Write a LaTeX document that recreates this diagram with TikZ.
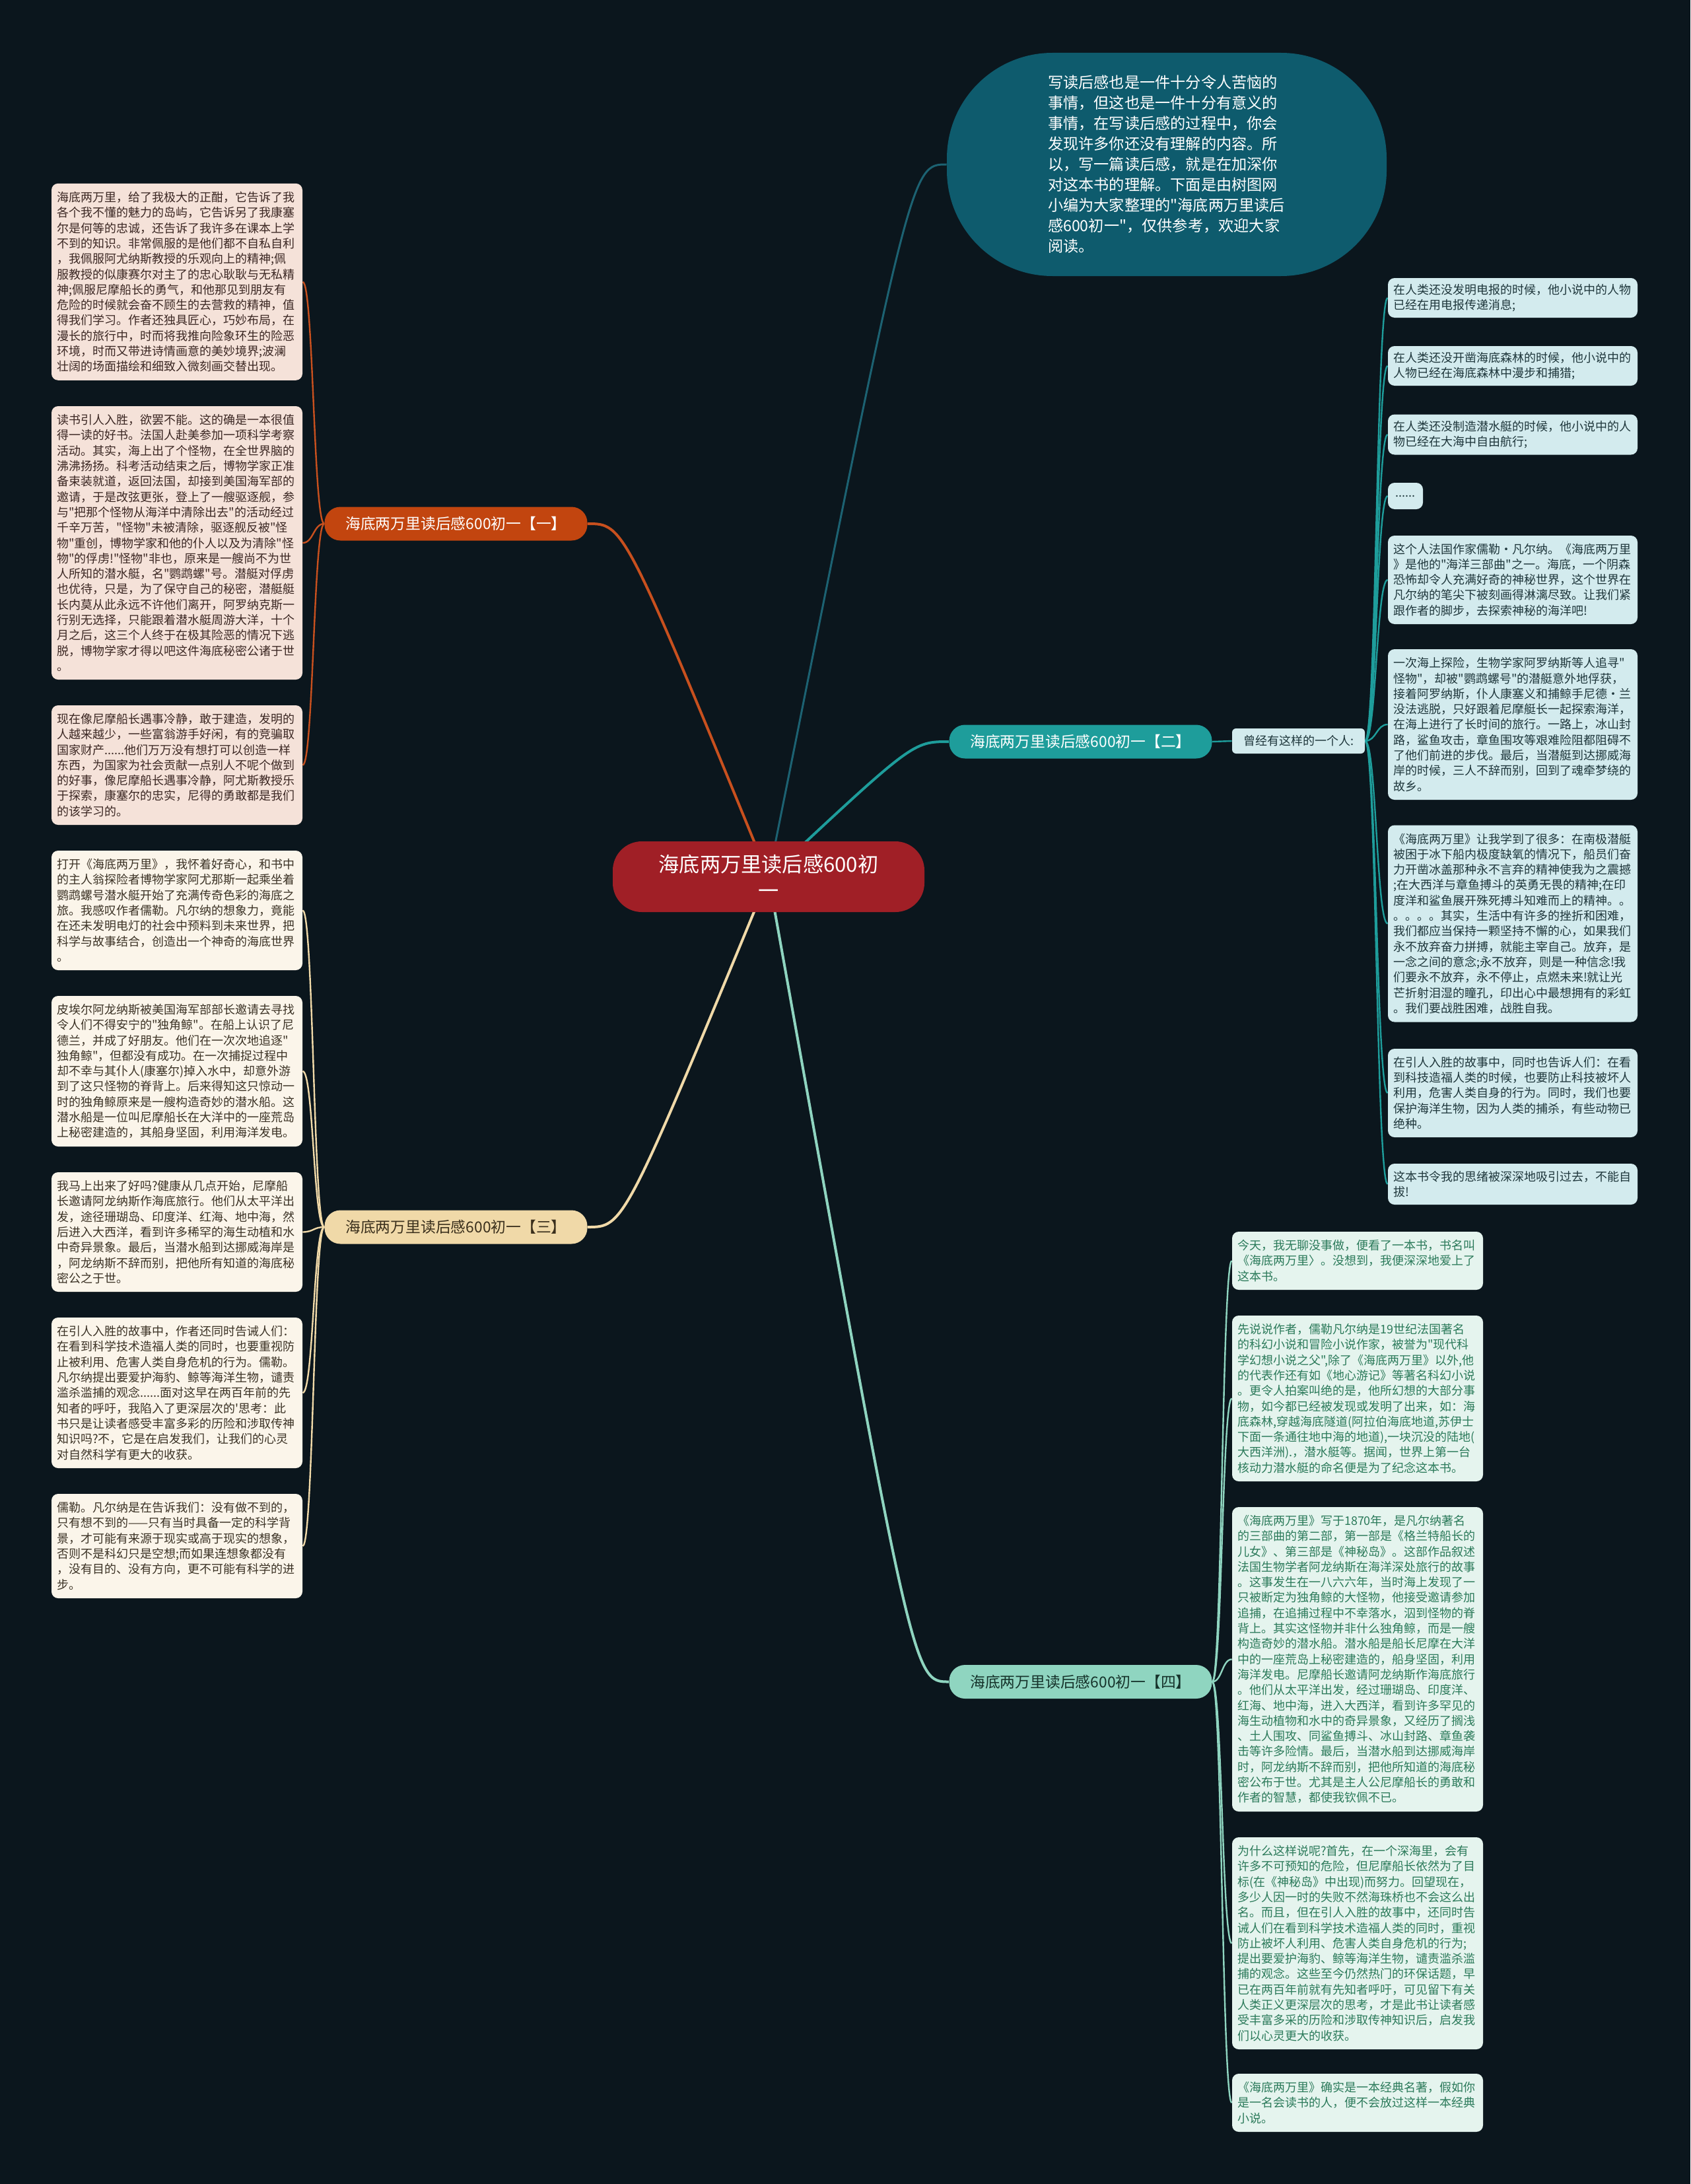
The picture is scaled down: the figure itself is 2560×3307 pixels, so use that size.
\documentclass[tikz,border=0pt]{standalone}
\usepackage{fontspec}
\setmainfont{Noto Sans CJK SC}[Ligatures=TeXOff]
\usetikzlibrary{calc}
\pgfdeclarelayer{back}
\pgfdeclarelayer{links}
\pgfsetlayers{back,links,main}
\definecolor{bgc}{HTML}{0B161D}
\definecolor{rootc}{HTML}{A01F26}
\definecolor{orgc}{HTML}{C2450F}
\definecolor{orgl}{HTML}{C8501E}
\definecolor{yelc}{HTML}{F0D9A8}
\definecolor{yeltxt}{HTML}{3A2F1C}
\definecolor{tealc}{HTML}{1E9D9B}
\definecolor{mintc}{HTML}{8FD5C0}
\definecolor{minttxt}{HTML}{16332B}
\definecolor{bubc}{HTML}{0E5B6D}
\definecolor{bubl}{HTML}{1C6272}
\definecolor{pkfill}{HTML}{F5E2D9}
\definecolor{pktxt}{HTML}{3B2723}
\definecolor{crfill}{HTML}{FBF5EA}
\definecolor{crtxt}{HTML}{3B3225}
\definecolor{cyfill}{HTML}{D3EBEE}
\definecolor{cytxt}{HTML}{1E363B}
\definecolor{mtfill}{HTML}{E5F4EE}
\definecolor{mttxt}{HTML}{2B7A5A}
\begin{document}
\begin{tikzpicture}[x=0.5pt,y=-0.5pt,
  rootnode/.style={fill=rootc,text=white,rounded corners=22pt,minimum width=236pt,minimum height=53.5pt,inner sep=0pt,align=center,font=\fontsize{15.6}{20}\selectfont},
  pill/.style={rounded corners=12pt,minimum width=199pt,minimum height=25.5pt,inner sep=0pt,font=\fontsize{11.4}{13}\selectfont},
  bubble/.style={fill=bubc,text=white,rounded corners=80pt,minimum width=333pt,minimum height=169pt,inner sep=0pt,text width=180pt,align=left,font=\fontsize{11.6}{15.5}\selectfont},
  tbox/.style={rounded corners=5pt,inner xsep=4pt,inner ysep=0pt,align=left,font=\fontsize{9}{11.65}\selectfont},
  pkbox/.style={tbox,fill=pkfill,text=pktxt,text width=182pt},
  crbox/.style={tbox,fill=crfill,text=crtxt,text width=182pt},
  cybox/.style={tbox,fill=cyfill,text=cytxt,text width=181pt},
  mtbox/.style={tbox,fill=mtfill,text=mttxt,text width=182pt},
  mainlink/.style={line width=2pt},
  sublink/.style={line width=1.2pt}
]
\begin{pgfonlayer}{back}
\fill[bgc] (0,0) rectangle (2560,3307);
\end{pgfonlayer}
\useasboundingbox (0,0) rectangle (2560,3307);

% root and branches
\node[rootnode] (root) at (1164,1327.5) {海底两万里读后感600初\\一};
\node[bubble] (bub) at (1767,249) {写读后感也是一件十分令人苦恼的\\事情，但这也是一件十分有意义的\\事情，在写读后感的过程中，你会\\发现许多你还没有理解的内容。所\\以，写一篇读后感，就是在加深你\\对这本书的理解。下面是由树图网\\小编为大家整理的"海底两万里读后\\感600初一"，仅供参考，欢迎大家\\阅读。};
\node[pill,fill=orgc,text=white] (b1) at (690.5,793) {海底两万里读后感600初一【一】};
\node[pill,fill=yelc,text=yeltxt] (b3) at (690.5,1858) {海底两万里读后感600初一【三】};
\node[pill,fill=tealc,text=white] (b2) at (1636.5,1123) {海底两万里读后感600初一【二】};
\node[pill,fill=mintc,text=minttxt] (b4) at (1636.5,2546.5) {海底两万里读后感600初一【四】};
\node[rounded corners=3pt,fill=cyfill,text=cytxt,minimum width=100.5pt,minimum height=19pt,inner sep=0pt,font=\fontsize{9}{11}\selectfont] (lab) at (1966.5,1122) {曾经有这样的一个人:};

% left boxes, branch one
\node[pkbox,minimum height=149pt] (l1) at (268,426.8) {海底两万里，给了我极大的正酣，它告诉了我\\各个我不懂的魅力的岛屿，它告诉另了我康塞\\尔是何等的忠诚，还告诉了我许多在课本上学\\不到的知识。非常佩服的是他们都不自私自利\\，我佩服阿尤纳斯教授的乐观向上的精神;佩\\服教授的似康赛尔对主了的忠心耿耿与无私精\\神;佩服尼摩船长的勇气，和他那见到朋友有\\危险的时候就会奋不顾生的去营救的精神，值\\得我们学习。作者还独具匠心，巧妙布局，在\\漫长的旅行中，时而将我推向险象环生的险恶\\环境，时而又带进诗情画意的美妙境界;波澜\\壮阔的场面描绘和细致入微刻画交替出现。};
\node[pkbox,minimum height=207pt] (l2) at (268,822) {读书引人入胜，欲罢不能。这的确是一本很值\\得一读的好书。法国人赴美参加一项科学考察\\活动。其实，海上出了个怪物，在全世界脑的\\沸沸扬扬。科考活动结束之后，博物学家正准\\备束装就道，返回法国，却接到美国海军部的\\邀请，于是改弦更张，登上了一艘驱逐舰，参\\与"把那个怪物从海洋中清除出去"的活动经过\\千辛万苦，"怪物"未被清除，驱逐舰反被"怪\\物"重创，博物学家和他的仆人以及为清除"怪\\物"的俘虏!"怪物"非也，原来是一艘尚不为世\\人所知的潜水艇，名"鹦鹉螺"号。潜艇对俘虏\\也优待，只是，为了保守自己的秘密，潜艇艇\\长内莫从此永远不许他们离开，阿罗纳克斯一\\行别无选择，只能跟着潜水艇周游大洋，十个\\月之后，这三个人终于在极其险恶的情况下逃\\脱，博物学家才得以吧这件海底秘密公诸于世\\。};
\node[pkbox,minimum height=90.5pt] (l3) at (268,1158.5) {现在像尼摩船长遇事冷静，敢于建造，发明的\\人越来越少，一些富翁游手好闲，有的竞骗取\\国家财产......他们万万没有想打可以创造一样\\东西，为国家为社会贡献一点别人不呢个做到\\的好事，像尼摩船长遇事冷静，阿尤斯教授乐\\于探索，康塞尔的忠实，尼得的勇敢都是我们\\的该学习的。};

% left boxes, branch three
\node[crbox,minimum height=90.5pt] (l4) at (268,1378.5) {打开《海底两万里》，我怀着好奇心，和书中\\的主人翁探险者博物学家阿尤那斯一起乘坐着\\鹦鹉螺号潜水艇开始了充满传奇色彩的海底之\\旅。我感叹作者儒勒。凡尔纳的想象力，竟能\\在还未发明电灯的社会中预料到未来世界，把\\科学与故事结合，创造出一个神奇的海底世界\\。};
\node[crbox,minimum height=114pt] (l5) at (268,1622) {皮埃尔阿龙纳斯被美国海军部部长邀请去寻找\\令人们不得安宁的"独角鲸"。在船上认识了尼\\德兰，并成了好朋友。他们在一次次地追逐"\\独角鲸"，但都没有成功。在一次捕捉过程中\\却不幸与其仆人(康塞尔)掉入水中，却意外游\\到了这只怪物的脊背上。后来得知这只惊动一\\时的独角鲸原来是一艘构造奇妙的潜水船。这\\潜水船是一位叫尼摩船长在大洋中的一座荒岛\\上秘密建造的，其船身坚固，利用海洋发电。};
\node[crbox,minimum height=90.5pt] (l6) at (268,1865.5) {我马上出来了好吗?健康从几点开始，尼摩船\\长邀请阿龙纳斯作海底旅行。他们从太平洋出\\发，途径珊瑚岛、印度洋、红海、地中海，然\\后进入大西洋，看到许多稀罕的海生动植和水\\中奇异景象。最后，当潜水船到达挪威海岸是\\，阿龙纳斯不辞而别，把他所有知道的海底秘\\密公之于世。};
\node[crbox,minimum height=114pt] (l7) at (268,2109) {在引人入胜的故事中，作者还同时告诫人们：\\在看到科学技术造福人类的同时，也要重视防\\止被利用、危害人类自身危机的行为。儒勒。\\凡尔纳提出要爱护海豹、鲸等海洋生物，谴责\\滥杀滥捕的观念......面对这早在两百年前的先\\知者的呼吁，我陷入了更深层次的'思考：此\\书只是让读者感受丰富多彩的历险和涉取传神\\知识吗?不，它是在启发我们，让我们的心灵\\对自然科学有更大的收获。};
\node[crbox,minimum height=79pt] (l8) at (268,2341) {儒勒。凡尔纳是在告诉我们：没有做不到的，\\只有想不到的——只有当时具备一定的科学背\\景，才可能有来源于现实或高于现实的想象，\\否则不是科幻只是空想;而如果连想象都没有\\，没有目的、没有方向，更不可能有科学的进\\步。};

% right boxes, branch two
\node[cybox,minimum height=30pt] (r1) at (2291,451) {在人类还没发明电报的时候，他小说中的人物\\已经在用电报传递消息;};
\node[cybox,minimum height=30pt] (r2) at (2291,554) {在人类还没开凿海底森林的时候，他小说中的\\人物已经在海底森林中漫步和捕猎;};
\node[cybox,minimum height=30.5pt] (r3) at (2291,658) {在人类还没制造潜水艇的时候，他小说中的人\\物已经在大海中自由航行;};
\node[tbox,fill=cyfill,text=cytxt,minimum width=26.5pt,minimum height=20pt,inner xsep=0pt,align=center] (r4) at (2128.5,751) {......};
\node[cybox,minimum height=67pt] (r5) at (2291,878) {这个人法国作家儒勒·凡尔纳。《海底两万里\\》是他的"海洋三部曲"之一。海底，一个阴森\\恐怖却令人充满好奇的神秘世界，这个世界在\\凡尔纳的笔尖下被刻画得淋漓尽致。让我们紧\\跟作者的脚步，去探索神秘的海洋吧!};
\node[cybox,minimum height=114pt] (r6) at (2291,1097) {一次海上探险，生物学家阿罗纳斯等人追寻"\\怪物"，却被"鹦鹉螺号"的潜艇意外地俘获，\\接着阿罗纳斯，仆人康塞义和捕鲸手尼德·兰\\没法逃脱，只好跟着尼摩艇长一起探索海洋，\\在海上进行了长时间的旅行。一路上，冰山封\\路，鲨鱼攻击，章鱼围攻等艰难险阻都阻碍不\\了他们前进的步伐。最后，当潜艇到达挪威海\\岸的时候，三人不辞而别，回到了魂牵梦绕的\\故乡。};
\node[cybox,minimum height=149pt] (r7) at (2291,1398.5) {《海底两万里》让我学到了很多：在南极潜艇\\被困于冰下船内极度缺氧的情况下，船员们奋\\力开凿冰盖那种永不言弃的精神使我为之震撼\\;在大西洋与章鱼搏斗的英勇无畏的精神;在印\\度洋和鲨鱼展开殊死搏斗知难而上的精神。。\\。。。。其实，生活中有许多的挫折和困难，\\我们都应当保持一颗坚持不懈的心，如果我们\\永不放弃奋力拼搏，就能主宰自己。放弃，是\\一念之间的意念;永不放弃，则是一种信念!我\\们要永不放弃，永不停止，点燃未来!就让光\\芒折射泪湿的瞳孔，印出心中最想拥有的彩虹\\。我们要战胜困难，战胜自我。};
\node[cybox,minimum height=67pt] (r8) at (2291,1655) {在引人入胜的故事中，同时也告诉人们：在看\\到科技造福人类的时候，也要防止科技被坏人\\利用，危害人类自身的行为。同时，我们也要\\保护海洋生物，因为人类的捕杀，有些动物已\\绝种。};
\node[cybox,minimum height=31pt] (r9) at (2291,1793) {这本书令我的思绪被深深地吸引过去，不能自\\拔!};

% right boxes, branch four
\node[mtbox,minimum height=44pt] (f1) at (2056,1909) {今天，我无聊没事做，便看了一本书，书名叫\\《海底两万里〉。没想到，我便深深地爱上了\\这本书。};
\node[mtbox,minimum height=125.5pt] (f2) at (2056,2117.5) {先说说作者，儒勒凡尔纳是19世纪法国著名\\的科幻小说和冒险小说作家，被誉为"现代科\\学幻想小说之父",除了《海底两万里》以外,他\\的代表作还有如《地心游记》等著名科幻小说\\。更令人拍案叫绝的是，他所幻想的大部分事\\物，如今都已经被发现或发明了出来，如：海\\底森林,穿越海底隧道(阿拉伯海底地道,苏伊士\\下面一条通往地中海的地道),一块沉没的陆地(\\大西洋洲).，潜水艇等。据闻，世界上第一台\\核动力潜水艇的命名便是为了纪念这本书。};
\node[mtbox,minimum height=230.5pt] (f3) at (2056,2512.5) {《海底两万里》写于1870年，是凡尔纳著名\\的三部曲的第二部，第一部是《格兰特船长的\\儿女》、第三部是《神秘岛》。这部作品叙述\\法国生物学者阿龙纳斯在海洋深处旅行的故事\\。这事发生在一八六六年，当时海上发现了一\\只被断定为独角鲸的大怪物，他接受邀请参加\\追捕，在追捕过程中不幸落水，泅到怪物的脊\\背上。其实这怪物并非什么独角鲸，而是一艘\\构造奇妙的潜水船。潜水船是船长尼摩在大洋\\中的一座荒岛上秘密建造的，船身坚固，利用\\海洋发电。尼摩船长邀请阿龙纳斯作海底旅行\\。他们从太平洋出发，经过珊瑚岛、印度洋、\\红海、地中海，进入大西洋，看到许多罕见的\\海生动植物和水中的奇异景象，又经历了搁浅\\、土人围攻、同鲨鱼搏斗、冰山封路、章鱼袭\\击等许多险情。最后，当潜水船到达挪威海岸\\时，阿龙纳斯不辞而别，把他所知道的海底秘\\密公布于世。尤其是主人公尼摩船长的勇敢和\\作者的智慧，都使我钦佩不已。};
\node[mtbox,minimum height=160.5pt] (f4) at (2056,2942.5) {为什么这样说呢?首先，在一个深海里，会有\\许多不可预知的危险，但尼摩船长依然为了目\\标(在《神秘岛》中出现)而努力。回望现在，\\多少人因一时的失败不然海珠桥也不会这么出\\名。而且，但在引人入胜的故事中，还同时告\\诫人们在看到科学技术造福人类的同时，重视\\防止被坏人利用、危害人类自身危机的行为;\\提出要爱护海豹、鲸等海洋生物，谴责滥杀滥\\捕的观念。这些至今仍然热门的环保话题，早\\已在两百年前就有先知者呼吁，可见留下有关\\人类正义更深层次的思考，才是此书让读者感\\受丰富多采的历险和涉取传神知识后，启发我\\们以心灵更大的收获。};
\node[mtbox,minimum height=44pt] (f5) at (2056,3184) {《海底两万里》确实是一本经典名著，假如你\\是一名会读书的人，便不会放过这样一本经典\\小说。};

% connectors
\begin{pgfonlayer}{links}
\draw[mainlink,orgl] (root.center) .. controls ($(b1.east)!0.2!(b1.east -| root.center)$) .. (b1.east);
\draw[mainlink,yelc] (root.center) .. controls ($(b3.east)!0.2!(b3.east -| root.center)$) .. (b3.east);
\draw[mainlink,tealc] (root.center) .. controls ($(b2.west)!0.2!(b2.west -| root.center)$) .. (b2.west);
\draw[mainlink,mintc] (root.center) .. controls ($(b4.west)!0.2!(b4.west -| root.center)$) .. (b4.west);
\draw[line width=1.5pt,bubl] (root.center) .. controls ($(bub.west)!0.2!(bub.west -| root.center)$) .. (bub.west);
\draw[sublink,tealc] (b2.east) -- (lab.west);
\foreach \c in {l1,l2,l3}
  \draw[sublink,orgl] (b1.west) .. controls ($(b1.west)!0.5!(b1.west -| \c.east)$) and ($(\c.east)!0.5!(\c.east -| b1.west)$) .. (\c.east);
\foreach \c in {l4,l5,l6,l7,l8}
  \draw[sublink,yelc] (b3.west) .. controls ($(b3.west)!0.5!(b3.west -| \c.east)$) and ($(\c.east)!0.5!(\c.east -| b3.west)$) .. (\c.east);
\foreach \c in {r1,r2,r3,r4,r5,r6,r7,r8,r9}
  \draw[sublink,tealc] (lab.east) .. controls ($(lab.east)!0.5!(lab.east -| \c.west)$) and ($(\c.west)!0.5!(\c.west -| lab.east)$) .. (\c.west);
\foreach \c in {f1,f2,f3,f4,f5}
  \draw[sublink,mintc] (b4.east) .. controls ($(b4.east)!0.5!(b4.east -| \c.west)$) and ($(\c.west)!0.5!(\c.west -| b4.east)$) .. (\c.west);
\end{pgfonlayer}
\end{tikzpicture}
\end{document}
